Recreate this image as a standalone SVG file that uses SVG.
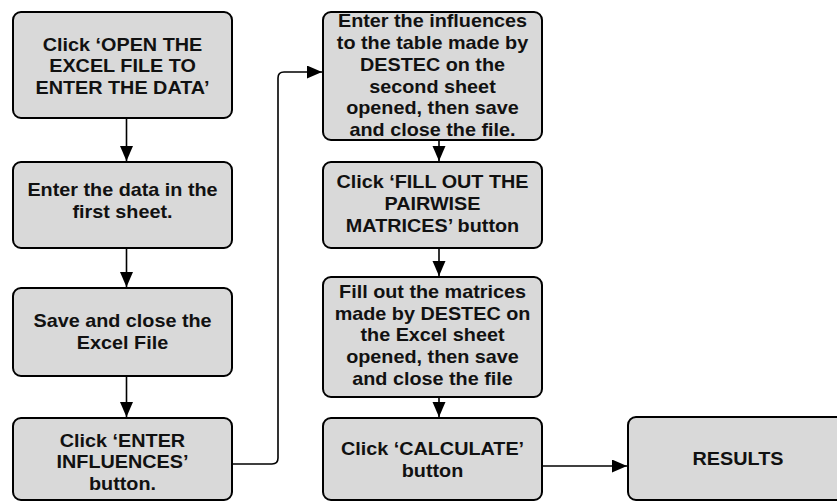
<svg xmlns="http://www.w3.org/2000/svg" width="837" height="502" viewBox="0 0 837 502">
  <style>
    .box { fill: #d9d9d9; stroke: #000; stroke-width: 2; }
    .lbl { font-family: "Liberation Sans", Arial, sans-serif; font-weight: bold; font-size: 18px; fill: #111; text-anchor: middle; }
    .wire { fill: none; stroke: #000; stroke-width: 1.6; }
  </style>
  <defs>
    <marker id="arrow" markerUnits="userSpaceOnUse" markerWidth="16" markerHeight="14" refX="15" refY="6.5" orient="auto">
      <path d="M0,0 L15,6.5 L0,13 Z" fill="#000"/>
    </marker>
  </defs>
  <rect width="837" height="502" fill="#fff"/>

  <g id="connectors">
    <line class="wire" x1="126.5" y1="118" x2="126.5" y2="161" marker-end="url(#arrow)"/>
    <line class="wire" x1="126.5" y1="248" x2="126.5" y2="287" marker-end="url(#arrow)"/>
    <line class="wire" x1="126.5" y1="376" x2="126.5" y2="417" marker-end="url(#arrow)"/>
    <path class="wire" d="M232,464 H272 Q278,464 278,458 V78 Q278,72 284,72 H322" marker-end="url(#arrow)"/>
    <line class="wire" x1="439" y1="140" x2="439" y2="161" marker-end="url(#arrow)"/>
    <line class="wire" x1="439" y1="248" x2="439" y2="276" marker-end="url(#arrow)"/>
    <line class="wire" x1="439" y1="397" x2="439" y2="417" marker-end="url(#arrow)"/>
    <line class="wire" x1="542" y1="466" x2="627" y2="466" marker-end="url(#arrow)"/>
  </g>

  <g id="open-excel">
    <rect class="box" x="13" y="12" width="219" height="106" rx="8"/>
    <text class="lbl" transform="matrix(1.1 0 0 1 122.5 0)"><tspan x="0" y="51">Click ‘OPEN THE</tspan><tspan x="0" y="72.5">EXCEL FILE TO</tspan><tspan x="0" y="94">ENTER THE DATA’</tspan></text>
  </g>

  <g id="enter-data">
    <rect class="box" x="13" y="162" width="219" height="86" rx="8"/>
    <text class="lbl" transform="matrix(1.1 0 0 1 122.5 0)"><tspan x="0" y="196">Enter the data in the</tspan><tspan x="0" y="218">first sheet.</tspan></text>
  </g>

  <g id="save-close">
    <rect class="box" x="13" y="288" width="219" height="88" rx="8"/>
    <text class="lbl" transform="matrix(1.1 0 0 1 122.5 0)"><tspan x="0" y="327.5">Save and close the</tspan><tspan x="0" y="349.5">Excel File</tspan></text>
  </g>

  <g id="enter-influences">
    <rect class="box" x="13" y="418" width="219" height="82" rx="8"/>
    <text class="lbl" transform="matrix(1.1 0 0 1 122.5 0)"><tspan x="0" y="447">Click ‘ENTER</tspan><tspan x="0" y="468.5">INFLUENCES’</tspan><tspan x="0" y="490">button.</tspan></text>
  </g>

  <g id="influences-table">
    <rect class="box" x="323" y="12" width="219" height="128" rx="8"/>
    <text class="lbl" transform="matrix(1.1 0 0 1 432.5 0)"><tspan x="0" y="27.5">Enter the influences</tspan><tspan x="0" y="49.2">to the table made by</tspan><tspan x="0" y="70.9">DESTEC on the</tspan><tspan x="0" y="92.6">second sheet</tspan><tspan x="0" y="114.3">opened, then save</tspan><tspan x="0" y="136">and close the file.</tspan></text>
  </g>

  <g id="fill-pairwise">
    <rect class="box" x="323" y="162" width="219" height="86" rx="8"/>
    <text class="lbl" transform="matrix(1.1 0 0 1 432.5 0)"><tspan x="0" y="188.5">Click ‘FILL OUT THE</tspan><tspan x="0" y="210">PAIRWISE</tspan><tspan x="0" y="231.7">MATRICES’ button</tspan></text>
  </g>

  <g id="fill-matrices">
    <rect class="box" x="323" y="277" width="219" height="120" rx="8"/>
    <text class="lbl" transform="matrix(1.1 0 0 1 432.5 0)"><tspan x="0" y="298">Fill out the matrices</tspan><tspan x="0" y="319.8">made by DESTEC on</tspan><tspan x="0" y="341.5">the Excel sheet</tspan><tspan x="0" y="363.2">opened, then save</tspan><tspan x="0" y="385">and close the file</tspan></text>
  </g>

  <g id="calculate">
    <rect class="box" x="323" y="418" width="219" height="82" rx="8"/>
    <text class="lbl" transform="matrix(1.1 0 0 1 432.5 0)"><tspan x="0" y="455">Click ‘CALCULATE’</tspan><tspan x="0" y="477">button</tspan></text>
  </g>

  <g id="results">
    <rect class="box" x="628" y="417" width="220" height="83" rx="8"/>
    <text class="lbl" transform="matrix(1.1 0 0 1 738 0)"><tspan x="0" y="465">RESULTS</tspan></text>
  </g>
</svg>
